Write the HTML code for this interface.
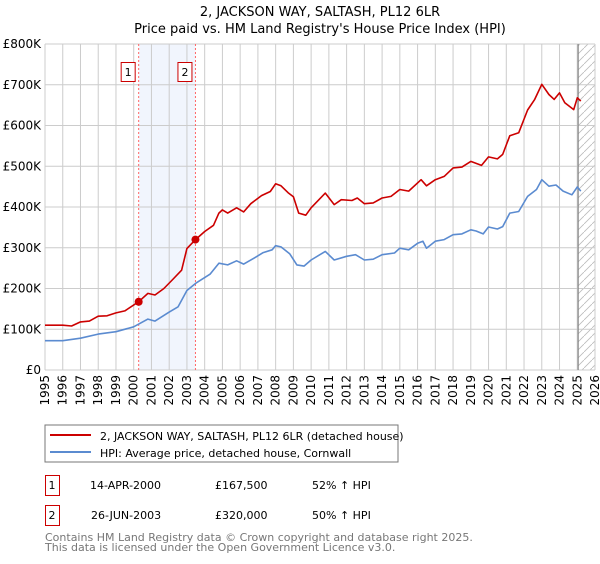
<!DOCTYPE html>
<html><head><meta charset="utf-8"><style>
body{margin:0;background:#fff;font-family:"DejaVu Sans","Liberation Sans",sans-serif;}
svg text{font-family:"DejaVu Sans","Liberation Sans",sans-serif;}
</style></head><body>
<svg id="c" width="600" height="560" viewBox="0 0 600 560">
<text x="320" y="16" text-anchor="middle" font-size="13">2, JACKSON WAY, SALTASH, PL12 6LR</text>
<text x="320" y="33" text-anchor="middle" font-size="13">Price paid vs. HM Land Registry's House Price Index (HPI)</text>
<g id="plot"></g>
<rect x="45" y="425" width="353" height="37" fill="#fff" stroke="#777"/>
<line x1="50" y1="435" x2="91" y2="435" stroke="#cc0000" stroke-width="2"/>
<text x="100" y="440" font-size="11">2, JACKSON WAY, SALTASH, PL12 6LR (detached house)</text>
<line x1="50" y1="452" x2="91" y2="452" stroke="#5b8bd0" stroke-width="2"/>
<text x="100" y="457" font-size="11">HPI: Average price, detached house, Cornwall</text>
<g font-size="11">
<rect x="45.5" y="475.5" width="14" height="20" fill="none" stroke="#cc0000"/>
<text x="52" y="489" text-anchor="middle">1</text>
<text x="90" y="489">14-APR-2000</text><text x="215" y="489">£167,500</text><text x="312" y="489">52% ↑ HPI</text>
<rect x="45.5" y="505.5" width="14" height="20" fill="none" stroke="#cc0000"/>
<text x="52" y="519" text-anchor="middle">2</text>
<text x="91" y="519">26-JUN-2003</text><text x="215" y="519">£320,000</text><text x="312" y="519">50% ↑ HPI</text>
</g>
<text x="45" y="541" font-size="11" fill="#777">Contains HM Land Registry data © Crown copyright and database right 2025.</text>
<text x="45" y="551" font-size="11" fill="#777">This data is licensed under the Open Government Licence v3.0.</text>
</svg>
<script>
const hpiYears=[1995,1996,1997,1998,1999,2000,2000.8,2001.2,2002,2002.5,2003,2003.5,2004.3,2004.8,2005.3,2005.8,2006.2,2006.8,2007.3,2007.8,2008,2008.3,2008.8,2009.2,2009.6,2010,2010.8,2011.3,2012,2012.5,2013,2013.5,2014,2014.7,2015,2015.5,2016,2016.3,2016.5,2017,2017.5,2018,2018.5,2019,2019.3,2019.7,2020,2020.5,2020.8,2021.2,2021.7,2022.2,2022.7,2023,2023.4,2023.8,2024.2,2024.7,2025,2025.2];
const hpiValues=[72,72,78,88,94,106,125,120,142,155,195,213,235,262,258,268,260,275,288,295,305,302,285,258,255,270,291,270,279,283,270,272,283,287,299,295,311,316,299,316,320,332,334,344,341,334,351,346,352,385,389,426,443,467,451,454,439,430,449,439];
const redYears=[1995,1996,1996.5,1997,1997.5,1998,1998.5,1999,1999.5,2000.28,2000.8,2001.2,2001.7,2002.2,2002.7,2003,2003.48,2004,2004.5,2004.8,2005,2005.3,2005.8,2006.2,2006.6,2007.2,2007.7,2008,2008.3,2008.7,2009,2009.3,2009.7,2010,2010.8,2011.3,2011.7,2012.3,2012.6,2013,2013.5,2014,2014.5,2015,2015.5,2016.2,2016.5,2017,2017.5,2018,2018.5,2019,2019.6,2020,2020.5,2020.8,2021.2,2021.7,2022.2,2022.6,2023,2023.4,2023.7,2024,2024.3,2024.8,2025,2025.2];
const redValues=[110,110,108,118,120,132,133,140,145,167.5,188,184,200,222,245,298,320,340,355,385,393,385,398,388,408,428,438,457,452,435,425,385,380,398,434,406,418,416,422,408,410,422,426,443,439,467,452,467,475,496,498,512,502,523,518,529,575,582,638,664,701,676,664,680,656,639,668,660];
const saleYears=[2000.28,2003.48];
const saleValues=[167.5,320];
const yTicks=[0,100,200,300,400,500,600,700,800];
const xTicks=[1995,1996,1997,1998,1999,2000,2001,2002,2003,2004,2005,2006,2007,2008,2009,2010,2011,2012,2013,2014,2015,2016,2017,2018,2019,2020,2021,2022,2023,2024,2025,2026];
const X0=45,X1=595,Y0=370,Y1=44;
const xs=y=>X0+(y-1995)/(2026-1995)*(X1-X0);
const ys=v=>Y0-v/800*(Y0-Y1);
const NS="http://www.w3.org/2000/svg";
const g=document.getElementById('plot');
function mk(t,a){const e=document.createElementNS(NS,t);for(const k in a)e.setAttribute(k,a[k]);g.appendChild(e);return e;}
let e=mk('rect',{x:xs(saleYears[0]),y:Y1,width:xs(saleYears[1])-xs(saleYears[0]),height:Y0-Y1,fill:'#eef3fd',opacity:0.8});


const defs=document.createElementNS(NS,'defs');
defs.innerHTML='<pattern id="h" width="8" height="8" patternUnits="userSpaceOnUse"><path d="M0 8 L8 0" stroke="#bbb" stroke-width="0.8"/></pattern>';
g.appendChild(defs);
e=mk('rect',{x:xs(2025.05),y:Y1,width:X1-xs(2025.05),height:Y0-Y1,fill:'url(#h)'});


xTicks.forEach(t=>{const l=mk('line',{x1:xs(t),x2:xs(t),y1:Y1,y2:Y0,stroke:'#ccc'});


const tx=mk('text',{x:0,y:0,'font-size':12,'text-anchor':'end',transform:`translate(${xs(t)+4},${Y0+5}) rotate(-90)`});tx.textContent=t;

});
yTicks.forEach(t=>{const l=mk('line',{x1:X0,x2:X1,y1:ys(t),y2:ys(t),stroke:'#ccc'});


const tx=mk('text',{x:X0-4,y:ys(t)+4,'font-size':12,'text-anchor':'end'});tx.textContent=t===0?'£0':'£'+t+'K';

});
e=mk('line',{x1:xs(2025.05),x2:xs(2025.05),y1:Y1,y2:Y0,stroke:'#888','stroke-width':1.2});


saleYears.forEach((s,i)=>{const l=mk('line',{x1:xs(s),x2:xs(s),y1:Y1,y2:Y0,stroke:'#ff6666','stroke-dasharray':'2,2'});


const r=mk('rect',{x:xs(s)-17.5,y:62.5,width:14,height:19,fill:'#fff',stroke:'#cc0000'});


const t=mk('text',{x:xs(s)-10.5,y:76,'font-size':11,'text-anchor':'middle'});t.textContent=i+1;

});
function path(xa,va,col,name){const d=xa.map((x,i)=>(i?'L':'M')+xs(x).toFixed(1)+' '+ys(va[i]).toFixed(1)).join(' ');
const p=mk('path',{d:d,fill:'none',stroke:col,'stroke-width':1.6,'stroke-linejoin':'round'});

}
path(hpiYears,hpiValues,'#5b8bd0','hpi-line');
path(redYears,redValues,'#cc0000','property-line');
saleYears.forEach((s,i)=>{const c=mk('circle',{cx:xs(s),cy:ys(saleValues[i]),r:4,fill:'#cc0000'});

});
</script>
</body></html>
